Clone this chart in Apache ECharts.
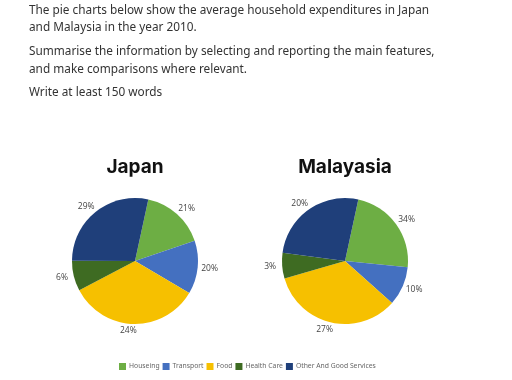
<!DOCTYPE html>
<html><head><meta charset="utf-8">
<script src="https://cdn.jsdelivr.net/npm/echarts@6/dist/echarts.min.js"></script>
<style>html,body{margin:0;padding:0;background:#fff}#c{width:512px;height:380px}</style>
</head><body><div id="c"></div>
<script>
const categories = ['Houseing', 'Transport', 'Food', 'Health Care', 'Other And Good Services'];
const colors = ['#6DAE44', '#4470C0', '#F6C000', '#3E6B22', '#1F3F7A'];
// slice sizes as drawn (share of the circle)
const japanSlices = [16.4, 13.7, 33.8, 7.8, 28.3];
const malaysiaSlices = [23.2, 10.0, 33.9, 6.6, 26.3];
// printed labels
const japanLabels = ['21%', '20%', '24%', '6%', '29%'];
const malaysiaLabels = ['34%', '10%', '27%', '3%', '20%'];
const pieTitles = ['Japan', 'Malayasia'];
const promptLines = [
  'The pie charts below show the average household expenditures in Japan',
  'and Malaysia in the year 2010.',
  'Summarise the information by selecting and reporting the main features,',
  'and make comparisons where relevant.',
  'Write at least 150 words'
];
const promptY = [12, 29, 53, 71, 94];

const chart = echarts.init(document.getElementById('c'), null, {renderer: 'canvas'});

function pie(name, values, labels, cx) {
  return {
    type: 'pie', name: name, center: [cx, 261], radius: 63,
    startAngle: 77.8, clockwise: true, animation: false,
    label: {
      show: true, position: 'outside',
      formatter: p => labels[p.dataIndex],
      fontFamily: 'Open Sans', fontSize: 8.5, color: '#444'
    },
    labelLine: {show: false, length: 7, length2: 0},
    labelLayout: () => ({align: 'center', verticalAlign: 'middle'}),
    emphasis: {disabled: true},
    data: categories.map((c, i) => ({name: c, value: values[i], itemStyle: {color: colors[i]}}))
  };
}

chart.setOption({
  backgroundColor: '#fff',
  color: colors,
  title: [
    {text: pieTitles[0], left: 130, top: 153, textAlign: 'center',
      textStyle: {fontFamily: 'Inter', fontWeight: 'bold', fontSize: 19, color: '#111'}},
    {text: pieTitles[1], left: 340, top: 153, textAlign: 'center',
      textStyle: {fontFamily: 'Inter', fontWeight: 'bold', fontSize: 19, color: '#111'}}
  ],
  graphic: promptLines.map((t, i) => ({
    type: 'text', left: 29, top: promptY[i] - 7,
    style: {text: t, font: '11.8px "Noto Sans"', fill: '#333'}
  })),
  legend: {
    data: categories, bottom: 5, left: 114,
    itemWidth: 7, itemHeight: 7, itemGap: 3, icon: 'rect',
    textStyle: {fontFamily: 'Noto Sans', fontSize: 6.8, color: '#666', padding: [0, 0, 0, -2]}
  },
  series: [
    pie('Japan', japanSlices, japanLabels, 135),
    pie('Malayasia', malaysiaSlices, malaysiaLabels, 345)
  ]
});
</script></body></html>
